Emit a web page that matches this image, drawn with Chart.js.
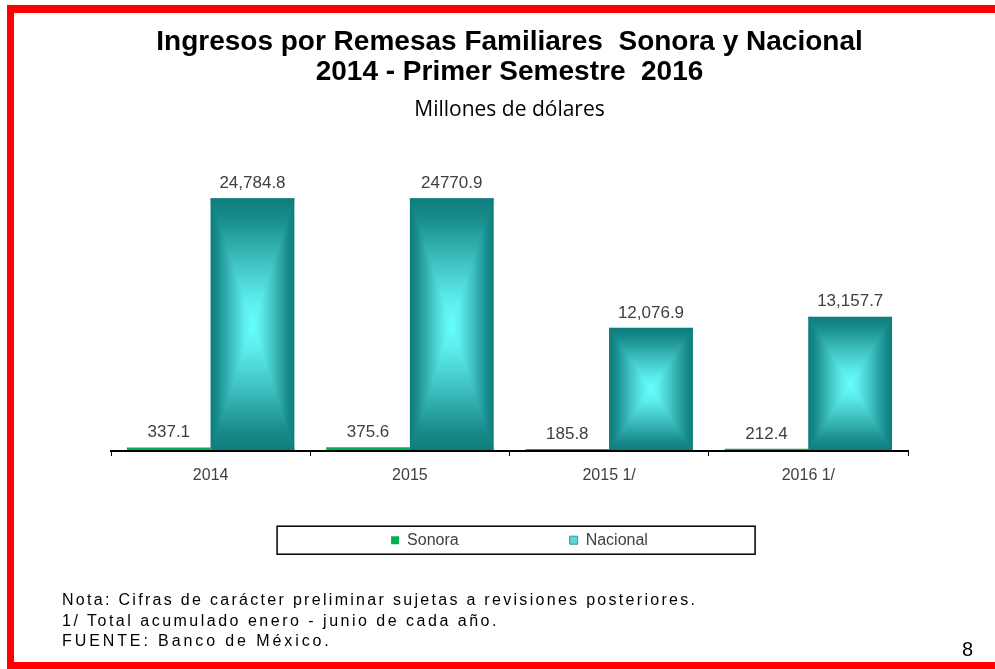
<!DOCTYPE html>
<html><head><meta charset="utf-8">
<script src="https://cdn.jsdelivr.net/npm/chart.js@4.4.1/dist/chart.umd.min.js"></script>
<style>
html,body{margin:0;padding:0;background:#fff;}
#wrap{position:relative;width:995px;height:669px;overflow:hidden;background:#fff;}
canvas{position:absolute;left:0;top:0;}
.red{position:absolute;background:#ff0000;}
.note{position:absolute;left:62px;font-family:'Liberation Sans',Arial,sans-serif;font-size:16px;line-height:20px;color:#000;white-space:nowrap;}
.page{position:absolute;left:962px;top:637px;font-family:'Liberation Sans',Arial,sans-serif;font-size:20px;line-height:24px;color:#000;}
</style></head><body>
<div id="wrap">
<canvas id="c" width="995" height="669"></canvas>
<div class="red" style="left:7px;top:5px;width:988px;height:8px"></div>
<div class="red" style="left:7px;top:5px;width:7px;height:664px"></div>
<div class="red" style="left:7px;top:662px;width:988px;height:7px"></div>
<div class="note" style="top:590px;letter-spacing:2.3px">Nota: Cifras de carácter preliminar sujetas a revisiones posteriores.</div>
<div class="note" style="top:611px;letter-spacing:2.5px">1/ Total acumulado enero - junio de cada año.</div>
<div class="note" style="top:631px;letter-spacing:2.9px">FUENTE: Banco de México.</div>
<div class="page">8</div>
</div>
<script>
const categories = ['2014', '2015', '2015 1/', '2016 1/'];
const seriesNames = ['Sonora', 'Nacional'];
const sonora = [337.1, 375.6, 185.8, 212.4];
const nacional = [24784.8, 24770.9, 12076.9, 13157.7];
const sonoraLabels = ['337.1', '375.6', '185.8', '212.4'];
const nacionalLabels = ['24,784.8', '24770.9', '12,076.9', '13,157.7'];
const titleLines = ['Ingresos por Remesas Familiares  Sonora y Nacional', '2014 - Primer Semestre  2016'];
const subtitleText = 'Millones de dólares';

Chart.defaults.font.family = "'Liberation Sans', Arial, sans-serif";

const gradientBars = {
  id: 'gradientBars',
  afterDatasetDraw(chart, args) {
    if (args.index !== 1) return;
    const ctx = chart.ctx;
    const stops = [[0, '#0E7C7C'], [0.15, '#178A8A'], [0.5, '#3FC0C0'], [0.8, '#5CEBEB'], [1, '#68FFFF']];
    const mk = (x0, y0, x1, y1) => {
      const g = ctx.createLinearGradient(x0, y0, x1, y1);
      stops.forEach(s => g.addColorStop(s[0], s[1]));
      return g;
    };
    const poly = (pts, fill) => {
      ctx.beginPath();
      ctx.moveTo(pts[0][0], pts[0][1]);
      for (let i = 1; i < pts.length; i++) ctx.lineTo(pts[i][0], pts[i][1]);
      ctx.closePath();
      ctx.fillStyle = fill;
      ctx.fill();
    };
    args.meta.data.forEach(el => {
      const p = el.getProps(['x', 'y', 'base', 'width'], true);
      const L = p.x - p.width / 2, R = p.x + p.width / 2;
      const T = Math.min(p.y, p.base), B = Math.max(p.y, p.base);
      const cx = p.x, cy = (T + B) / 2;
      ctx.save();
      ctx.beginPath(); ctx.rect(L, T, R - L, B - T); ctx.clip();
      poly([[L - 1, T], [R + 1, T], [cx, cy + 0.6]], mk(cx, T, cx, cy));
      poly([[L - 1, B], [R + 1, B], [cx, cy - 0.6]], mk(cx, B, cx, cy));
      poly([[L, T - 1], [L, B + 1], [cx + 0.4, cy]], mk(L, cy, cx, cy));
      poly([[R, T - 1], [R, B + 1], [cx - 0.4, cy]], mk(R, cy, cx, cy));
      ctx.restore();
    });
  }
};

const valueLabels = {
  id: 'valueLabels',
  afterDatasetsDraw(chart) {
    const ctx = chart.ctx;
    ctx.save();
    ctx.font = "17px 'Liberation Sans', Arial, sans-serif";
    ctx.fillStyle = '#404040';
    ctx.textAlign = 'center';
    ctx.textBaseline = 'middle';
    const texts = [sonoraLabels, nacionalLabels];
    chart.data.datasets.forEach((ds, i) => {
      chart.getDatasetMeta(i).data.forEach((el, j) => {
        ctx.fillText(texts[i][j], el.x, el.y - 15);
      });
    });
    ctx.restore();
  }
};

const legendFrame = {
  id: 'legendFrame',
  afterLayout(chart) {
    const lg = chart.legend;
    const p = lg.options.labels.padding;
    const dy = 37 - p, dx = 10;
    lg.top += dy; lg.bottom += dy; lg.left += dx; lg.right += dx;
  },
  afterDraw(chart) {
    const lg = chart.legend;
    const p = lg.options.labels.padding;
    const firstX = (lg.left + p + lg.right - lg.lineWidths[0]) / 2;
    const cy = lg.top + p + 8;
    const ctx = chart.ctx;
    ctx.save();
    ctx.strokeStyle = '#000';
    ctx.lineWidth = 1.5;
    ctx.strokeRect(firstX - 114, cy - 14, 478, 28);
    ctx.restore();
  }
};

new Chart(document.getElementById('c'), {
  type: 'bar',
  data: {
    labels: categories,
    datasets: [
      { label: seriesNames[0], data: sonora, backgroundColor: '#00B050', borderWidth: 0, barPercentage: 1, categoryPercentage: 0.84 },
      { label: seriesNames[1], data: nacional, backgroundColor: '#128282', borderWidth: 0, barPercentage: 1, categoryPercentage: 0.84 }
    ]
  },
  options: {
    responsive: false,
    animation: false,
    devicePixelRatio: 1,
    layout: { padding: { left: 111, right: 87, top: 0, bottom: 36.8 } },
    plugins: {
      title: {
        display: true,
        text: titleLines,
        color: '#000',
        font: { size: 28, weight: 'bold', lineHeight: 30 / 28 },
        padding: { top: 27, bottom: 5 }
      },
      subtitle: {
        display: true,
        text: subtitleText,
        color: '#000',
        font: { family: "'Open Sans', sans-serif", size: 21, weight: 'normal', lineHeight: 1.2 },
        padding: { top: 5, bottom: 22.8 }
      },
      legend: {
        display: true,
        position: 'bottom',
        labels: {
          boxWidth: 8,
          boxHeight: 8,
          padding: 111,
          color: '#404040',
          font: { size: 16 },
          generateLabels(chart) {
            return chart.data.datasets.map((ds, i) => ({
              text: ds.label,
              fillStyle: i === 0 ? '#00B050' : '#5ED8D8',
              strokeStyle: i === 0 ? '#00B050' : '#2A9A9A',
              lineWidth: i === 0 ? 0 : 1,
              hidden: false,
              datasetIndex: i,
              fontColor: '#404040'
            }));
          }
        }
      },
      tooltip: { enabled: false }
    },
    scales: {
      x: {
        offset: true,
        grid: { display: true, drawOnChartArea: false, drawTicks: true, tickLength: 5, color: '#000', lineWidth: 1, offset: true },
        border: { display: true, color: '#000', width: 2, z: 1 },
        ticks: { color: '#404040', font: { size: 16 }, padding: 10, maxRotation: 0, autoSkip: false }
      },
      y: { display: false, min: 0, max: 30000 }
    }
  },
  plugins: [gradientBars, valueLabels, legendFrame]
});
</script>
</body></html>
